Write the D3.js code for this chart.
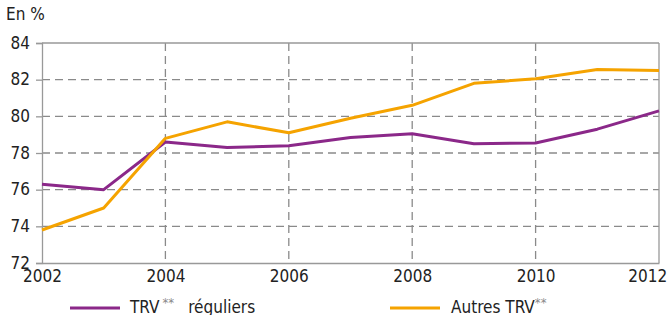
<!DOCTYPE html>
<html>
<head>
<meta charset="utf-8">
<script src="https://cdn.jsdelivr.net/npm/d3@7"></script>
<style>
  body { margin: 0; background: #fff; }
  svg text { font-family: "DejaVu Sans Condensed", "DejaVu Sans", sans-serif; font-stretch: condensed; }
</style>
</head>
<body>
<script>
// data
var years = [2002, 2003, 2004, 2005, 2006, 2007, 2008, 2009, 2010, 2011, 2012];
var reguliers = [76.3, 76.0, 78.6, 78.3, 78.4, 78.85, 79.05, 78.5, 78.55, 79.3, 80.3];
var autres = [73.8, 75.0, 78.8, 79.7, 79.1, 79.9, 80.6, 81.8, 82.05, 82.55, 82.5];
var yTicks = [72, 74, 76, 78, 80, 82, 84];
var xTicks = [2002, 2004, 2006, 2008, 2010, 2012];

var W = 668, H = 315;
var margin = { top: 43, right: 9, bottom: 52, left: 42 },
    width = W - margin.left - margin.right,
    height = H - margin.top - margin.bottom;

var svg = d3.select("body").append("svg")
    .attr("width", W)
    .attr("height", H);

var g = svg.append("g")
    .attr("transform", "translate(" + margin.left + "," + margin.top + ")");

var x = d3.scaleLinear().domain([2002, 2012]).range([0, width]);
var y = d3.scaleLinear().domain([72, 84]).range([height, 0]);

// horizontal grid
g.selectAll(".hgrid")
    .data(yTicks.filter(function (d) { return d > 72 && d < 84; }))
    .enter().append("line")
    .attr("x1", 0).attr("x2", width)
    .attr("y1", function (d) { return y(d); })
    .attr("y2", function (d) { return y(d); })
    .attr("stroke", "#8a8a8a")
    .attr("stroke-width", 1.3)
    .attr("stroke-dasharray", "8,5");

// vertical grid
g.selectAll(".vgrid")
    .data(xTicks.filter(function (d) { return d > 2002 && d < 2012; }))
    .enter().append("line")
    .attr("x1", function (d) { return x(d); })
    .attr("x2", function (d) { return x(d); })
    .attr("y1", 0).attr("y2", height)
    .attr("stroke", "#8a8a8a")
    .attr("stroke-width", 1.3)
    .attr("stroke-dasharray", "8,5");

// frame top + right
g.append("line").attr("x1", 0).attr("x2", width).attr("y1", 0).attr("y2", 0)
    .attr("stroke", "#999").attr("stroke-width", 1.3);
g.append("line").attr("x1", width).attr("x2", width).attr("y1", 0).attr("y2", height)
    .attr("stroke", "#999").attr("stroke-width", 1.3);

// axes
var yAxis = d3.axisLeft(y).tickValues(yTicks).tickSize(6).tickPadding(6);
var yg = g.append("g").call(yAxis);
yg.select(".domain").attr("stroke", "#999").attr("stroke-width", 1.3);
yg.selectAll(".tick line").attr("stroke", "#999").attr("stroke-width", 1.3);
yg.selectAll("text").attr("font-size", 17).attr("fill", "#222").attr("dy", "0.3em");

var xAxis = d3.axisBottom(x).tickValues(xTicks).tickSize(0).tickPadding(7).tickFormat(d3.format("d"));
var xg = g.append("g").attr("transform", "translate(0," + height + ")").call(xAxis);
xg.select(".domain").attr("stroke", "#999").attr("stroke-width", 1.3);
xg.selectAll("text").attr("font-size", 17).attr("fill", "#222")
    .attr("text-anchor", function (d) { return d === 2012 ? "end" : "middle"; })
    .attr("dx", function (d) { return d === 2012 ? "0.45em" : 0; });

// lines
var line = d3.line()
    .x(function (d, i) { return x(years[i]); })
    .y(function (d) { return y(d); });

g.append("path").datum(reguliers)
    .attr("fill", "none").attr("stroke", "#8b2889").attr("stroke-width", 3)
    .attr("stroke-linejoin", "round")
    .attr("d", line);

g.append("path").datum(autres)
    .attr("fill", "none").attr("stroke", "#f5a300").attr("stroke-width", 3)
    .attr("stroke-linejoin", "round")
    .attr("d", line);

// unit label
svg.append("text").attr("x", 6).attr("y", 20)
    .attr("font-size", 17).attr("fill", "#222").text("En %");

// legend
var leg = svg.append("g");
leg.append("line").attr("x1", 70).attr("x2", 120).attr("y1", 308).attr("y2", 308)
    .attr("stroke", "#8b2889").attr("stroke-width", 3);
var t1 = leg.append("text").attr("x", 130).attr("y", 313).attr("font-size", 17).attr("fill", "#222");
t1.append("tspan").text("TRV");
t1.append("tspan").attr("dy", -6).attr("dx", 3).attr("font-size", 13).attr("fill", "#888").text("**");
t1.append("tspan").attr("dy", 6).attr("dx", 14).text("réguliers");

leg.append("line").attr("x1", 390).attr("x2", 440).attr("y1", 308).attr("y2", 308)
    .attr("stroke", "#f5a300").attr("stroke-width", 3);
var t2 = leg.append("text").attr("x", 451).attr("y", 313).attr("font-size", 17).attr("fill", "#222");
t2.append("tspan").text("Autres TRV");
t2.append("tspan").attr("dy", -6).attr("font-size", 13).attr("fill", "#888").text("**");
</script>
</body>
</html>
